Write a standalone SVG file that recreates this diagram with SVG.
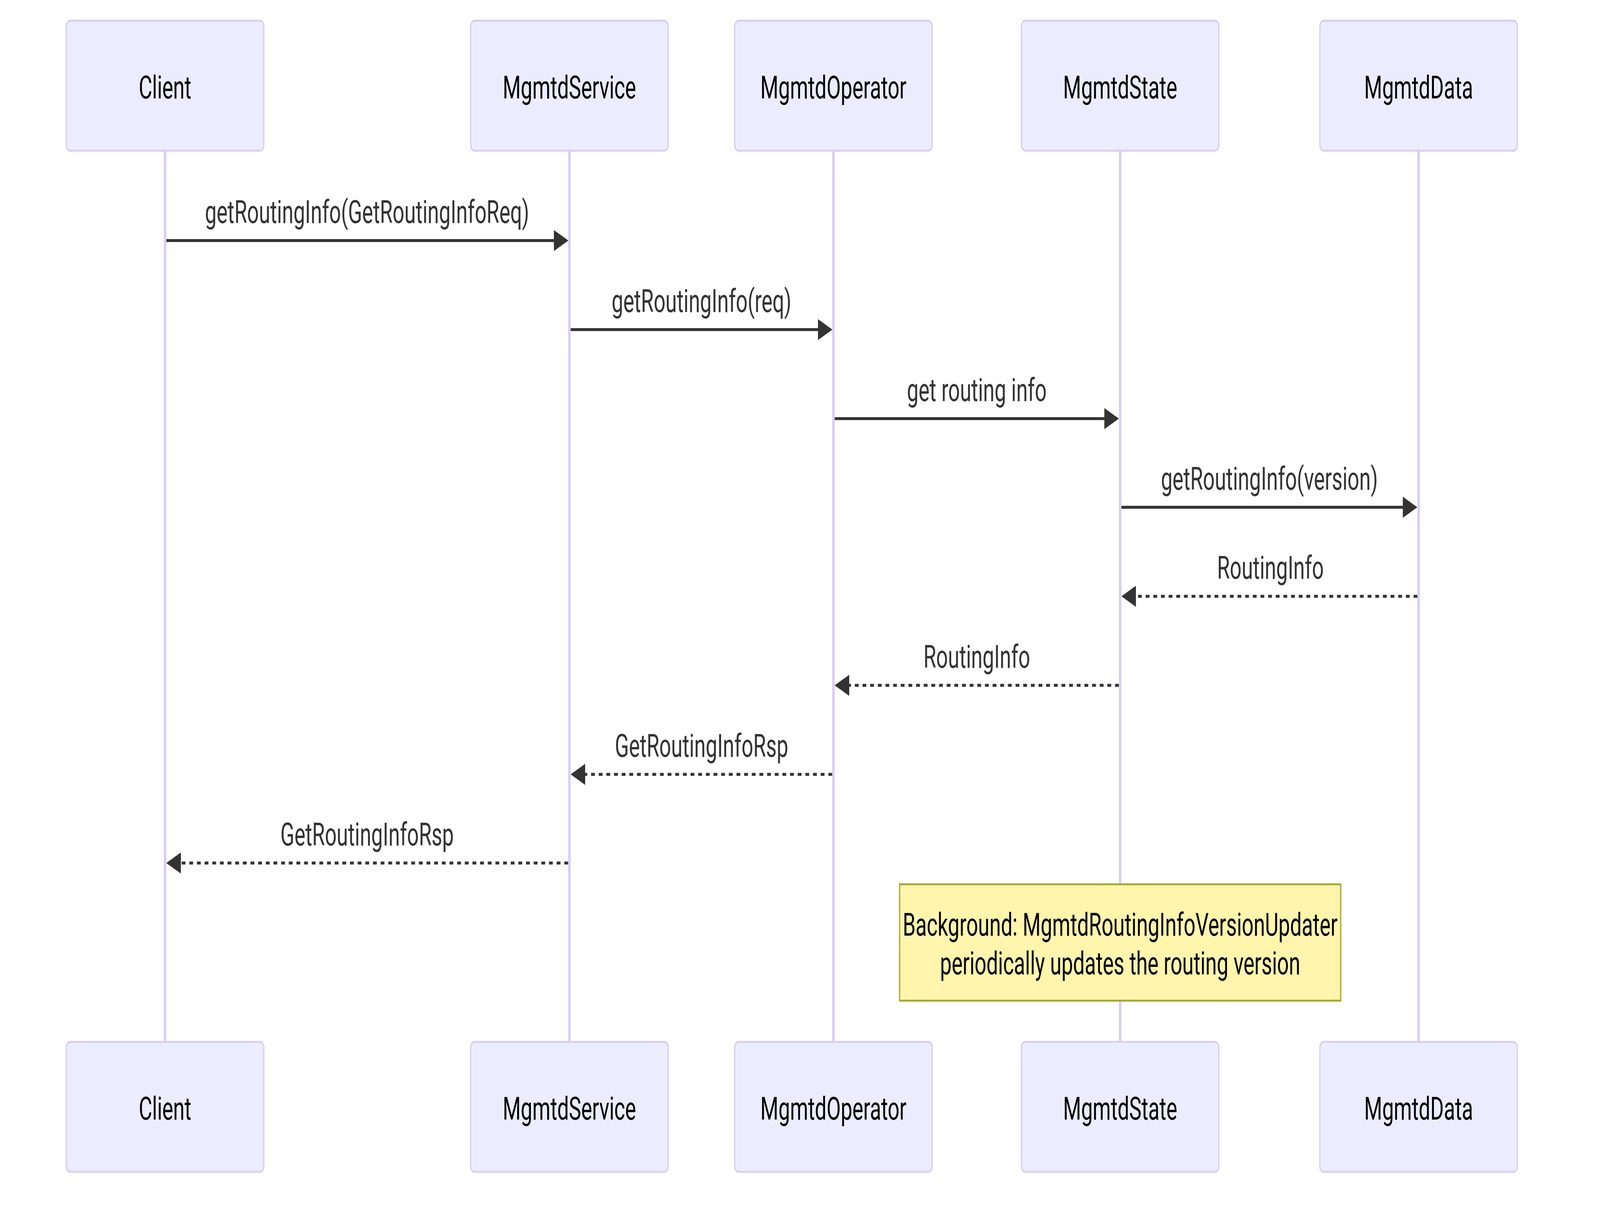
<svg xmlns="http://www.w3.org/2000/svg" width="6272" height="3096" viewBox="0 0 6272 3096" preserveAspectRatio="none" style="width:100vw;height:100vh">
<style>
.actor{fill:#ECECFF;stroke:#DACEF3;stroke-width:5}
.actor-text{font-family:Roboto,"Noto Sans",sans-serif;font-size:81px;fill:#000;text-anchor:middle}
.lifeline{stroke:#DACEF3;stroke-width:10}
.msg{stroke:#333;stroke-width:7.5;fill:none}
.dashed{stroke-dasharray:15,15}
.label{font-family:Roboto,"Noto Sans",sans-serif;font-size:81px;fill:#333;text-anchor:middle}
.note{fill:#FFF5AD;stroke:#AAAA33;stroke-width:5}
.note-text{font-family:Roboto,"Noto Sans",sans-serif;font-size:81px;fill:#000;text-anchor:middle}
</style>
<defs>
<marker id="arrow" markerUnits="userSpaceOnUse" viewBox="0 0 57 54" markerWidth="57" markerHeight="54" refX="45" refY="27" orient="auto">
<path d="M0,0 L57,27 L0,54 z" fill="#333"/>
</marker>
</defs>
<rect width="6272" height="3096" fill="#fff"/>
<g id="lifelines">
<line class="lifeline" x1="647" y1="388" x2="647" y2="2666"/>
<line class="lifeline" x1="2232" y1="388" x2="2232" y2="2666"/>
<line class="lifeline" x1="3267" y1="388" x2="3267" y2="2666"/>
<line class="lifeline" x1="4391" y1="388" x2="4391" y2="2666"/>
<line class="lifeline" x1="5561" y1="388" x2="5561" y2="2666"/>
</g>
<g id="actor-client">
<rect class="actor" x="260" y="53" width="774" height="333" rx="15" ry="15"/>
<text class="actor-text" x="647" y="252">Client</text>
<rect class="actor" x="260" y="2668" width="774" height="333" rx="15" ry="15"/>
<text class="actor-text" x="647" y="2867">Client</text>
</g>
<g id="actor-mgmtdservice">
<rect class="actor" x="1845" y="53" width="774" height="333" rx="15" ry="15"/>
<text class="actor-text" x="2232" y="252">MgmtdService</text>
<rect class="actor" x="1845" y="2668" width="774" height="333" rx="15" ry="15"/>
<text class="actor-text" x="2232" y="2867">MgmtdService</text>
</g>
<g id="actor-mgmtdoperator">
<rect class="actor" x="2880" y="53" width="774" height="333" rx="15" ry="15"/>
<text class="actor-text" x="3267" y="252">MgmtdOperator</text>
<rect class="actor" x="2880" y="2668" width="774" height="333" rx="15" ry="15"/>
<text class="actor-text" x="3267" y="2867">MgmtdOperator</text>
</g>
<g id="actor-mgmtdstate">
<rect class="actor" x="4004" y="53" width="774" height="333" rx="15" ry="15"/>
<text class="actor-text" x="4391" y="252">MgmtdState</text>
<rect class="actor" x="4004" y="2668" width="774" height="333" rx="15" ry="15"/>
<text class="actor-text" x="4391" y="2867">MgmtdState</text>
</g>
<g id="actor-mgmtddata">
<rect class="actor" x="5174" y="53" width="774" height="333" rx="15" ry="15"/>
<text class="actor-text" x="5561" y="252">MgmtdData</text>
<rect class="actor" x="5174" y="2668" width="774" height="333" rx="15" ry="15"/>
<text class="actor-text" x="5561" y="2867">MgmtdData</text>
</g>
<g id="connectors">
<line class="msg" x1="652" y1="616" x2="2216" y2="616" marker-end="url(#arrow)"/>
<text class="label" x="1439" y="571">getRoutingInfo(GetRoutingInfoReq)</text>
<line class="msg" x1="2237" y1="844" x2="3251" y2="844" marker-end="url(#arrow)"/>
<text class="label" x="2750" y="799">getRoutingInfo(req)</text>
<line class="msg" x1="3272" y1="1072" x2="4374" y2="1072" marker-end="url(#arrow)"/>
<text class="label" x="3829" y="1027">get routing info</text>
<line class="msg" x1="4396" y1="1299" x2="5544" y2="1299" marker-end="url(#arrow)"/>
<text class="label" x="4976" y="1254">getRoutingInfo(version)</text>
<line class="msg dashed" x1="5556" y1="1527" x2="4408" y2="1527" marker-end="url(#arrow)"/>
<text class="label" x="4980" y="1482">RoutingInfo</text>
<line class="msg dashed" x1="4386" y1="1755" x2="3284" y2="1755" marker-end="url(#arrow)"/>
<text class="label" x="3829" y="1710">RoutingInfo</text>
<line class="msg dashed" x1="3262" y1="1983" x2="2249" y2="1983" marker-end="url(#arrow)"/>
<text class="label" x="2750" y="1938">GetRoutingInfoRsp</text>
<line class="msg dashed" x1="2227" y1="2210" x2="664" y2="2210" marker-end="url(#arrow)"/>
<text class="label" x="1439" y="2165">GetRoutingInfoRsp</text>
</g>
<g id="note">
<rect class="note" x="3526.5" y="2264.5" width="1729" height="298"/>
<text class="note-text" x="4391" y="2396">Background: MgmtdRoutingInfoVersionUpdater</text>
<text class="note-text" x="4391" y="2495">periodically updates the routing version</text>
</g>
</svg>
